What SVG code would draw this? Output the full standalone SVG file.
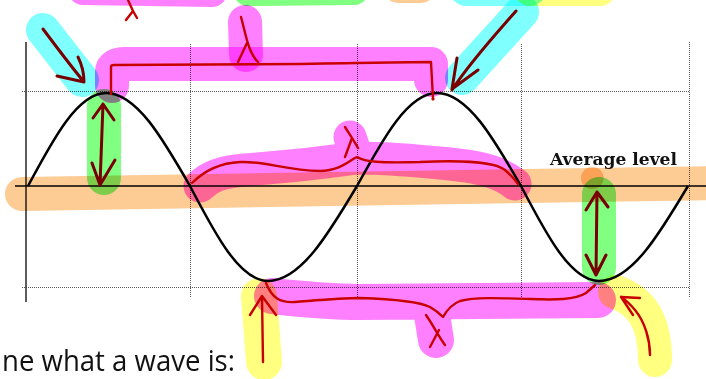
<svg xmlns="http://www.w3.org/2000/svg" width="706" height="379" viewBox="0 0 706 379">
<defs>
<style>
.hl{fill:none;stroke-linecap:round;stroke-linejoin:round;mix-blend-mode:multiply}
.mg{stroke:#ff80ff}
.gr{stroke:#80ff80}
.cy{stroke:#80ffff}
.ye{stroke:#ffff80}
.or{stroke:#fdcb94}
.ink{fill:none;stroke:#c80000;stroke-width:2.4;stroke-linecap:round;stroke-linejoin:round}
.dk{fill:none;stroke:#780000;stroke-width:3;stroke-linecap:round;stroke-linejoin:round}
.dot{fill:none;stroke:#555;stroke-width:1;stroke-dasharray:1 1}
</style>
</defs>
<rect width="706" height="379" fill="#fff"/>
<g id="grid">
<path class="dot" d="M22,91.5H690M22,287.5H690M190.5,44V298M357.5,44V298M521.5,44V298M689.5,42V298"/>
<path d="M26,42V302" stroke="#333" stroke-width="1.6" fill="none"/>
<path d="M15,186H706" stroke="#000" stroke-width="1.6" fill="none"/>
</g>
<g id="wave">
<path d="M28,186 C53.4,138.4 77.8,93 106,93 C136.4,93 162.6,138.4 190,186 C215.4,234.7 239.8,281 268,281 C300.2,281 328,234.7 357,186 C383.1,138.4 408,93 437,93 C467.4,93 493.6,138.4 521,186 C546.4,234.7 570.8,281 599,281 C631.2,281 659,234.7 688,186" fill="none" stroke="#000" stroke-width="2.5"/>
</g>
<g id="highlights">
<path id="hl-top-magenta" class="hl mg" stroke-width="30" d="M83,-10L212,-8"/>
<path id="hl-top-green" class="hl gr" stroke-width="30" d="M248,-9L354,-10"/>
<path id="hl-top-orange" class="hl or" stroke-width="30" d="M398,-12L421,-12"/>
<path id="hl-top-cyan" class="hl cy" stroke-width="32" d="M466,-10L530,-10"/>
<path id="hl-top-yellow" class="hl ye" stroke-width="32" d="M530,-10L600,-10"/>
<path id="hl-average" class="hl or" stroke-width="34" d="M22,194L720,183"/>
<path id="hl-avg-dot" class="hl or" stroke-width="22" d="M592,178L592.5,178"/>
<path id="hl-cyan-left" class="hl cy" stroke-width="34" d="M43,30L82,80"/>
<path id="hl-cyan-right" class="hl cy" stroke-width="34" d="M522,12L462,78"/>
<path id="hl-lambda-top" class="hl mg" stroke-width="34" d="M245,22L246,55"/>
<path id="hl-bracket-top" class="hl mg" stroke-width="34" d="M112,86L112,72Q112,64 125,64L300,64L431,64L431,80"/>
<path id="hl-green-left" class="hl gr" stroke-width="34" d="M104,106L104,178"/>
<path id="hl-green-right" class="hl gr" stroke-width="34" d="M599,194L599,268"/>
<path id="hl-bracket-mid" class="hl mg" stroke-width="33" d="M200,186C210,176 222,172 245,170C270,168 300,166 357,158C390,158 420,161 450,164C480,167 500,172 515,184M350,137L355,152"/>
<path id="hl-yellow-left" class="hl ye" stroke-width="36" d="M259,296L264,362"/>
<path id="hl-yellow-right" class="hl ye" stroke-width="34" d="M615,292C640,300 655,320 655,360"/>
<path id="hl-bracket-bottom" class="hl mg" stroke-width="36" d="M272,296C300,299 330,302 360,302L598,300M432,315L436,340"/>
</g>
<g id="connectors">
<path id="lambda-topleft" class="ink" d="M128,0L133,11L126,20M133,11L137,18"/>
<path id="lambda-top" class="ink" d="M241,17C246,35 248,52 258,62M247,43L238,62"/>
<path id="bracket-top" class="ink" d="M111,94L111,67Q111,65 114,65L300,64C350,63 400,62 431,62L433,99"/>
<circle cx="433" cy="99" r="1.6" fill="#c80000"/>
<path id="bracket-mid" class="ink" d="M192,183C205,170 220,163 240,162C265,161 285,170 320,171C340,171 350,160 357,157C365,162 380,163 420,162C460,160 495,162 505,170C512,176 515,180 518,184"/>
<path id="lambda-mid" class="ink" d="M345,127C350,135 354,141 358,148M352,138L345,157"/>
<path id="bracket-bottom" class="ink" d="M266,283C272,298 280,303 295,302C320,300 340,298 360,298C390,299 420,302 430,307C437,311 441,315 443,317C447,310 452,304 460,301C475,297 500,298 530,299C555,300 575,300 586,293L595,285"/>
<path id="lambda-bottom" class="ink" d="M426,315C433,325 439,337 445,345M439,330L430,347"/>
<path id="arrow-yellow-left" class="ink" d="M263,362L262,297M250,315L262,296L276,315"/>
<path id="arrow-yellow-right" class="ink" d="M650,355C650,340 645,322 635,310C630,304 626,300 621,297M621,297L640,298M621,297L633,315"/>
<path id="arrow-cyan-left" class="dk" d="M43,29C55,45 70,65 84,82M78,57C82,65 84,73 84,82M57,76L84,82"/>
<path id="arrow-cyan-right" class="dk" d="M516,11C495,35 470,62 452,90M457,58L452,89L478,70"/>
<path id="arrow-green-left" class="dk" d="M103,104L100,185M93,118L103,104L114,120M92,163L100,185L115,160"/>
<path id="arrow-green-right" class="dk" d="M597,192L596,275M586,210L597,192L608,207M586,255L596,275L606,255"/>
</g>
<g id="labels">
<text id="average-level" x="550" y="165" font-family="'DejaVu Serif', serif" font-weight="bold" font-size="16" textLength="127" lengthAdjust="spacingAndGlyphs" fill="#111">Average level</text>
<text id="caption" x="2" y="371" font-family="'Open Sans', 'Liberation Sans', sans-serif" font-size="29" textLength="233" lengthAdjust="spacingAndGlyphs" fill="#111">ne what a wave is:</text>
</g>
</svg>
